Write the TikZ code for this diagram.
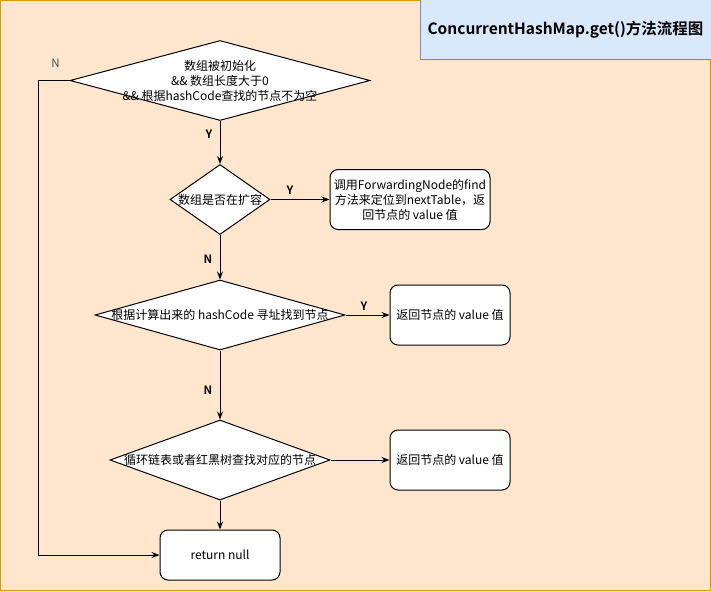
\documentclass[tikz,border=0pt]{standalone}
\usepackage{fontspec}
\setmainfont{Noto Sans CJK SC}[BoldFont={Noto Sans CJK SC Bold}]
\usepackage{tikz}
\usetikzlibrary{shapes.geometric, positioning, arrows.meta}
\definecolor{bgfill}{HTML}{FFE6CC}
\definecolor{bgline}{HTML}{D79B00}
\definecolor{titlefill}{HTML}{DAE8FC}
\definecolor{titleline}{HTML}{6C8EBF}
\tikzset{
    x=1pt, y=-1pt, % one unit is one pixel of the sketch
    >={Stealth[length=8pt, width=6pt]}, % arrow tip of every connector
    node distance=115pt, % centre to centre, changed per node below
    decision/.style={diamond, draw, fill=white, inner sep=0pt}, % text goes in a separate node
    block/.style={rectangle, rounded corners=8pt, draw, fill=white, align=center},
    txt/.style={align=center, font=\fontsize{12}{15}\selectfont},
    yn/.style={font=\bfseries\fontsize{11.5}{13}\selectfont},
    }

\begin{document}
\begin{tikzpicture}[line width=1pt]
\useasboundingbox (0,0) rectangle (711,591);
\draw[bgline, fill=bgfill] (0.5,0.5) rectangle (710.5,590.5);
\node[rectangle, draw=titleline, fill=titlefill, minimum width=291pt, minimum height=60pt,
      font=\bfseries\fontsize{15.5}{18}\selectfont] (title) at (565.5,30) {ConcurrentHashMap.get()方法流程图};

% main column
\node[decision, minimum width=300pt, minimum height=80pt] (d1) at (220,80.5) {};
\node[decision, minimum width=100pt, minimum height=70pt, node distance=119pt, below of=d1] (d2) {};
\node[decision, minimum width=250pt, minimum height=70pt, node distance=115.5pt, below of=d2] (d3) {};
\node[decision, minimum width=220pt, minimum height=80pt, node distance=145pt, below of=d3] (d4) {};
\node[block, minimum width=120pt, minimum height=50pt, node distance=95pt, below of=d4, txt] (rn) {return null};

% texts of the decisions
\node[txt] (t1) at (d1) {数组被初始化\\\&\& 数组长度大于0\\\&\& 根据hashCode查找的节点不为空};
\node[txt] (t2) at (d2) {数组是否在扩容};
\node[txt] (t3) at (d3) {根据计算出来的 hashCode 寻址找到节点};
\node[txt] (t4) at (d4) {循环链表或者红黑树查找对应的节点};

% right column
\node[block, minimum width=160pt, minimum height=60pt, node distance=190pt, right of=d2, txt,
      inner sep=1pt] (b3)
    {调用ForwardingNode的find\\方法来定位到nextTable，返\\回节点的 value 值};
\node[block, minimum width=120pt, minimum height=60pt, node distance=230pt, right of=d3, txt] (b4) {返回节点的 value 值};
\node[block, minimum width=120pt, minimum height=60pt, node distance=230pt, right of=d4, txt] (b5) {返回节点的 value 值};

\coordinate[left=31pt of d1.west] (turn);

\draw[->] (d1) -- node[yn, pos=0.3, left=4pt] {Y} (d2);
\draw[->] (d2) -- node[yn, pos=0.33, above=1pt] {Y} (b3);
\draw[->] (d2) -- node[yn, pos=0.54, left=4pt] {N} (d3);
\draw[->] (d3) -- node[yn, pos=0.42, above=1pt] {Y} (b4);
\draw[->] (d3) -- node[yn, pos=0.57, left=4pt] {N} (d4);
\draw[->] (d4) -- (b5);
\draw[->] (d4) -- (rn);
\draw[->] (d1.west) -- node[pos=0.45, above=9pt, text=black!70, font=\fontsize{11.5}{13}\selectfont] {N} (turn) |- (rn.west);
\end{tikzpicture}
\end{document}
